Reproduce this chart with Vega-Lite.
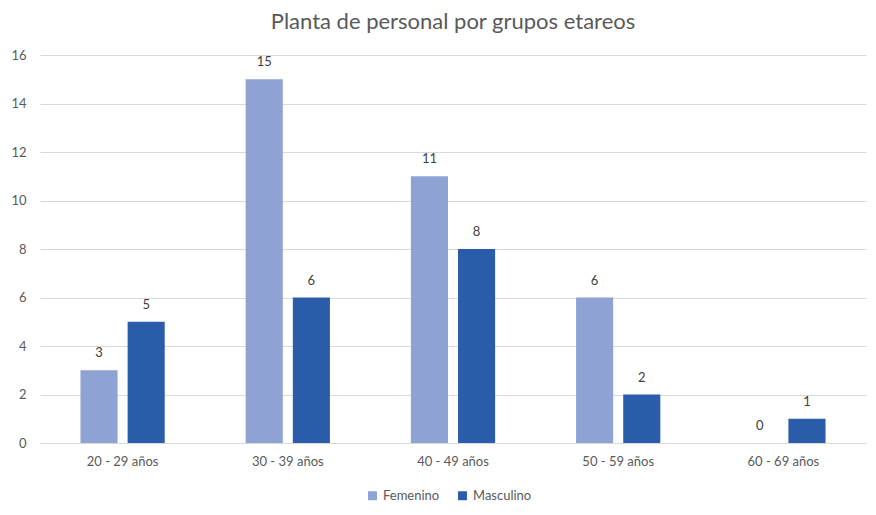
{
  "$schema": "https://vega.github.io/schema/vega-lite/v6.json",
  "autosize": "none",
  "padding": {"left": 40, "top": 55, "right": 10, "bottom": 72},
  "width": 826,
  "height": 388,
  "background": "white",
  "title": {"text": "Planta de personal por grupos etareos", "font": "Lato", "fontSize": 22, "fontWeight": "normal", "color": "#595959", "offset": 15},
  "data": {"values": [
    {"grupo": "20 - 29 años", "sexo": "Femenino", "n": 3},
    {"grupo": "20 - 29 años", "sexo": "Masculino", "n": 5},
    {"grupo": "30 - 39 años", "sexo": "Femenino", "n": 15},
    {"grupo": "30 - 39 años", "sexo": "Masculino", "n": 6},
    {"grupo": "40 - 49 años", "sexo": "Femenino", "n": 11},
    {"grupo": "40 - 49 años", "sexo": "Masculino", "n": 8},
    {"grupo": "50 - 59 años", "sexo": "Femenino", "n": 6},
    {"grupo": "50 - 59 años", "sexo": "Masculino", "n": 2},
    {"grupo": "60 - 69 años", "sexo": "Femenino", "n": 0},
    {"grupo": "60 - 69 años", "sexo": "Masculino", "n": 1}
  ]},
  "config": {
    "font": "Lato",
    "view": {"stroke": null}
  },
  "encoding": {
    "x": {"field": "grupo", "type": "nominal", "title": null,
      "scale": {"paddingInner": 0.49, "paddingOuter": 0.245},
      "axis": {"labelAngle": 0, "labelFontSize": 13, "labelColor": "#595959", "ticks": false, "domainColor": "#d9d9d9", "labelPadding": 12, "labelFont": "Lato"}},
    "xOffset": {"field": "sexo", "type": "nominal", "scale": {"paddingInner": 0.213, "paddingOuter": 0}},
    "y": {"field": "n", "type": "quantitative", "title": null,
      "scale": {"domain": [0, 16]},
      "axis": {"values": [0, 2, 4, 6, 8, 10, 12, 14, 16], "labelFontSize": 13, "labelColor": "#595959", "ticks": false, "domain": false, "gridColor": "#d9d9d9", "labelPadding": 14, "labelFont": "Lato"}}
  },
  "layer": [
    {
      "mark": {"type": "bar"},
      "encoding": {
        "color": {"field": "sexo", "type": "nominal", "title": null,
          "scale": {"domain": ["Femenino", "Masculino"], "range": ["#8fa2d4", "#2a5caa"]},
          "legend": {"orient": "none", "legendX": 326, "legendY": 434, "direction": "horizontal", "symbolType": "square", "symbolSize": 80, "labelFontSize": 13, "labelColor": "#595959", "columnPadding": 16, "labelFont": "Lato"}}
      }
    },
    {
      "mark": {"type": "text", "dy": -17, "fontSize": 13, "color": "#404040", "font": "Lato"},
      "encoding": {"text": {"field": "n", "type": "quantitative"}}
    }
  ]
}
